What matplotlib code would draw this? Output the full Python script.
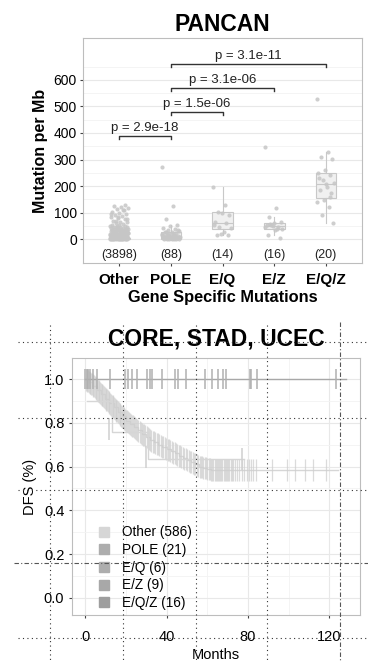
import numpy as np
import matplotlib
matplotlib.use("Agg")
import matplotlib.pyplot as plt
from matplotlib.lines import Line2D

plt.rcParams['font.family'] = ['Liberation Sans', 'DejaVu Sans']

# ---- top panel data ----
groups = ["Other", "POLE", "E/Q", "E/Z", "E/Q/Z"]
counts = ["(3898)", "(88)", "(14)", "(16)", "(20)"]

other_vals = [0, 0, 0, 0, 0, 1, 1, 1, 1, 2, 2, 2, 2, 3, 3, 3, 4, 4, 5, 5, 5, 6, 6, 7, 8, 8, 9, 10,
              10, 11, 12, 13, 14, 15, 16, 17, 18, 19, 20, 21, 22, 23, 24, 25, 26, 27, 28, 29, 30,
              31, 32, 33, 34, 35, 36, 37, 38, 39, 40, 41, 42, 43, 44, 45, 46, 47, 48, 49, 50, 2,
              4, 6, 8, 12, 15, 18, 22, 26, 30, 35, 40, 1, 3, 5, 7, 9, 11, 14, 17, 20, 24, 28, 33,
              52, 55, 58, 60, 63, 66, 70, 74, 78, 82, 87, 92, 96, 100, 104, 108, 112, 117, 120,
              125, 128, 85, 95, 110, 68, 76]
pole_vals = [270, 126, 74, 55, 48, 42, 38, 35, 30, 27, 25, 22, 20, 18, 16, 14, 12, 11, 10, 9, 8,
             7, 6, 5, 4, 3, 3, 2, 2, 1, 1, 0, 0, 0, 15, 20, 28, 33, 6, 9, 13, 17]
eq_vals = [197, 128, 103, 91, 97, 65, 62, 46, 42, 28, 15, 15, 21, 53]
ez_vals = [346, 116, 84, 65, 59, 53, 46, 53, 40, 34, 15, 6, 48, 44, 38, 57]
eqz_vals = [527, 329, 311, 301, 260, 248, 241, 223, 210, 197, 185, 172, 147, 141, 122, 91, 59,
            208, 230, 160]

# box statistics: (whislo, q1, median, q3, whishi)
box_stats = [(0, 0, 1, 4, 10), (0, 2, 10, 25, 55), (15, 40, 62, 103, 197),
             (15, 37, 48, 59, 84), (59, 156, 208, 251, 329)]

# comparisons: (group a, group b, bracket height, label)
comparisons = [(0, 1, 390, "p = 2.9e-18"), (1, 2, 480, "p = 1.5e-06"),
               (1, 3, 570, "p = 3.1e-06"), (1, 4, 660, "p = 3.1e-11")]

# ---- bottom panel data ----
other_t = [0, 2, 4, 6, 8, 10, 12, 14, 16, 18, 20, 22, 24, 26, 28, 30, 32, 34, 36, 38, 40, 42,
           44, 46, 48, 50, 52, 54, 56, 58, 60, 62, 64, 124]
other_s = [1.0, 0.985, 0.97, 0.95, 0.93, 0.91, 0.89, 0.87, 0.85, 0.83, 0.81, 0.795, 0.78, 0.765,
           0.75, 0.735, 0.72, 0.71, 0.70, 0.69, 0.68, 0.67, 0.66, 0.65, 0.64, 0.63, 0.62, 0.61,
           0.60, 0.595, 0.59, 0.585, 0.585, 0.585]
other_cens = [0.5, 0.9, 1.2, 1.5, 1.8, 2.2, 2.6, 3.0, 3.3, 3.7, 4.0, 4.4, 4.8, 5.2, 5.5, 5.9,
              6.3, 6.7, 7.0, 7.4, 7.8, 8.2, 8.5, 8.9, 9.3, 9.7, 10.1, 10.5, 10.8, 11.2, 11.6,
              12.0, 12.4, 12.8, 13.1, 13.5, 13.9, 14.3, 14.7, 15.1, 15.4, 15.8, 16.2, 16.6, 17.0,
              17.4, 17.8, 18.2, 18.5, 18.9, 19.3, 19.7, 20.1, 20.5, 21.0, 21.5, 22.0, 22.5, 23.0,
              23.5, 24.0, 24.6, 25.1, 25.7, 26.2, 26.8, 27.3, 27.9, 28.5, 29.0, 29.6, 30.2, 30.8,
              31.4, 32.0, 32.6, 33.2, 33.8, 34.5, 35.1, 35.8, 36.4, 37.1, 37.8, 38.5, 39.2, 39.9,
              40.5, 41.2, 41.9, 42.6, 43.3, 44.0, 44.6, 45.3, 46.0, 46.7, 47.3, 48.0, 48.7, 49.4,
              50.1, 50.8, 51.4, 52.1, 52.8, 53.5, 54.1, 54.8, 55.5, 56.2, 56.8, 57.5, 58.1, 58.8,
              59.4, 60.1, 60.7, 61.3, 61.9, 62.5, 63.0, 63.6, 64.1, 64.6, 65.2, 65.7, 66.3, 66.8,
              67.4, 68.0, 68.6, 69.1, 69.7, 70.3, 70.9, 71.5, 72.0, 72.6, 73.5, 74.6, 75.8, 77.0,
              78.1, 79.3, 80.4, 81.6, 82.7, 83.8, 92.0, 99.3, 103.0, 107.8, 111.8, 118.5]
other2_t = [1, 13, 31, 78]
other2_s = [0.90, 0.76, 0.635, 0.635]
other2_cens = [12, 30, 77]

top_t = [0, 128]
top_s = [1.0, 1.0]
top_cens = [0, 0.8, 1.6, 2.5, 4.1, 5.7, 12.3, 19.6, 21.2, 22.9, 25.3, 30.2, 31.9, 32.7, 37.6,
            44.0, 45.8, 49.8, 58.8, 62.1, 65.3, 67.8, 69.4, 80.9, 81.7, 84.2, 123.4]

legend_labels = ["Other (586)", "POLE (21)", "E/Q (6)", "E/Z (9)", "E/Q/Z (16)"]
legend_colors = ["#d6d6d6", "#adadad", "#adadad", "#a8a8a8", "#9e9e9e"]

W, H = 368, 661
fig = plt.figure(figsize=(W / 100, H / 100), dpi=100)

# ================= top panel =================
ax1 = fig.add_axes([83 / W, 1 - 263 / H, 279 / W, 225 / H])
ax1.set_xlim(-0.7, 4.7)
ax1.set_ylim(-90, 758)
ax1.set_yticks(range(0, 601, 100))
ax1.set_yticks(range(50, 651, 100), minor=True)
ax1.grid(True, axis='y', which='major', color='#e8e8e8', lw=0.8)
ax1.grid(True, axis='y', which='minor', color='#f3f3f3', lw=0.6)
ax1.set_axisbelow(True)

stats = []
for (lo, q1, med, q3, hi) in box_stats:
    stats.append(dict(whislo=lo, q1=q1, med=med, q3=q3, whishi=hi, fliers=[]))
ax1.bxp(stats, positions=range(5), widths=0.4, patch_artist=True, showfliers=False,
        boxprops=dict(facecolor='#f0f0f0', edgecolor='#c8c8c8', lw=0.8),
        medianprops=dict(color='#c8c8c8', lw=0.8),
        whiskerprops=dict(color='#c8c8c8', lw=0.8),
        capprops=dict(lw=0))

for i, vals in enumerate([other_vals, pole_vals, eq_vals, ez_vals, eqz_vals]):
    n = len(vals)
    offs = ((np.arange(n) * 0.618) % 1 - 0.5) * 0.36
    ax1.scatter(i + offs, vals, s=9, color='#c6c6c6', alpha=0.85, lw=0, zorder=3)

for i, c in enumerate(counts):
    ax1.text(i, -60, c, ha='center', va='center', fontsize=9, color='#222222')

for a, b, h, lab in comparisons:
    ax1.plot([a, a, b, b], [h - 12, h, h, h - 12], color='#333333', lw=1.0, zorder=4)
    ax1.text((a + b) / 2, h + 6, lab, ha='center', va='bottom', fontsize=9.5, color='#222222')

ax1.set_xticks(range(5))
ax1.set_xticklabels(groups, fontweight='bold', fontsize=11)
ax1.tick_params(axis='both', length=2.5, color='#444444', labelsize=10, pad=2)
ax1.tick_params(axis='x', labelsize=11, pad=5)
ax1.tick_params(which='minor', length=0)
ax1.set_ylabel("Mutation per Mb", fontweight='bold', fontsize=11.5, labelpad=4)
ax1.set_xlabel("Gene Specific Mutations", fontweight='bold', fontsize=11.8, labelpad=2)
ax1.set_title("PANCAN", fontweight='bold', fontsize=16.5, pad=5)
for sp in ax1.spines.values():
    sp.set_color('#bdbdbd')

# ================= bottom panel =================
ax2 = fig.add_axes([72 / W, 1 - 615 / H, 288 / W, 257 / H])
ax2.set_xlim(-6.4, 135)
ax2.set_ylim(-0.078, 1.096)
ax2.set_xticks([0, 40, 80, 120])
ax2.set_xticks([20, 60, 100], minor=True)
ax2.set_yticks([0, 0.2, 0.4, 0.6, 0.8, 1.0])
ax2.set_yticks([0.1, 0.3, 0.5, 0.7, 0.9], minor=True)
ax2.set_yticklabels(["0.0", "0.2", "0.4", "0.6", "0.8", "1.0"])
ax2.grid(True, which='major', color='#e8e8e8', lw=0.8)
ax2.grid(True, which='minor', color='#f3f3f3', lw=0.6)
ax2.set_axisbelow(True)

ax2.plot(other_t, other_s, drawstyle='steps-post', color='#d6d6d6', lw=1.0, zorder=2)
cs = np.interp(other_cens, other_t, other_s)
ax2.plot(other_cens, cs, ls='none', marker='|', ms=16, mew=0.9, color='#cfcfcf', alpha=0.75,
         zorder=2)
ax2.plot(other2_t, other2_s, drawstyle='steps-post', color='#d6d6d6', lw=1.0, zorder=2)
cs2 = np.interp(other2_cens, other2_t, other2_s)
ax2.plot(other2_cens, cs2, ls='none', marker='|', ms=16, mew=1.1, color='#d0d0d0', zorder=2)

ax2.plot(top_t, top_s, color='#a8a8a8', lw=1.0, zorder=3)
ax2.plot(top_cens, np.ones(len(top_cens)), ls='none', marker='|', ms=15, mew=1.1,
         color='#b0b0b0', zorder=3)

handles = [Line2D([], [], ls='none', marker='s', ms=7, color=c) for c in legend_colors]
ax2.legend(handles, legend_labels, loc='upper left', bbox_to_anchor=(0.065, 0.375),
           frameon=False, fontsize=9.8, handlelength=1.0, handletextpad=0.8,
           labelspacing=0.27, borderpad=0)

ax2.tick_params(axis='both', length=2.5, color='#444444', labelsize=10.5)
ax2.tick_params(which='minor', length=0)
ax2.tick_params(axis='x', pad=8)
ax2.tick_params(axis='y', pad=3)
ax2.set_ylabel("DFS (%)", fontsize=10.5, labelpad=5)
ax2.set_xlabel("Months", fontsize=10.5, labelpad=3)
ax2.set_title("CORE, STAD, UCEC", fontweight='bold', fontsize=16.5, pad=9)
for sp in ax2.spines.values():
    sp.set_color('#bdbdbd')

# layout guide lines overlaid on the lower panel
for xv in [50, 123, 196, 267]:
    fig.add_artist(Line2D([xv / W, xv / W], [1 - 325 / H, 0], transform=fig.transFigure,
                          color='#333333', lw=0.8, ls=(0, (1, 3)), zorder=10))
fig.add_artist(Line2D([340 / W, 340 / W], [1 - 322 / H, 0], transform=fig.transFigure,
                      color='#555555', lw=0.8, ls=(0, (4, 2, 1, 2)), zorder=10))
for yv in [342, 418, 490, 638]:
    fig.add_artist(Line2D([18 / W, 1], [1 - yv / H, 1 - yv / H], transform=fig.transFigure,
                          color='#333333', lw=0.8, ls=(0, (1, 3)), zorder=10))
fig.add_artist(Line2D([14 / W, 1], [1 - 563 / H, 1 - 563 / H], transform=fig.transFigure,
                      color='#555555', lw=0.8, ls=(0, (4, 2, 1, 2)), zorder=10))

fig.savefig("out.png", dpi=100)
